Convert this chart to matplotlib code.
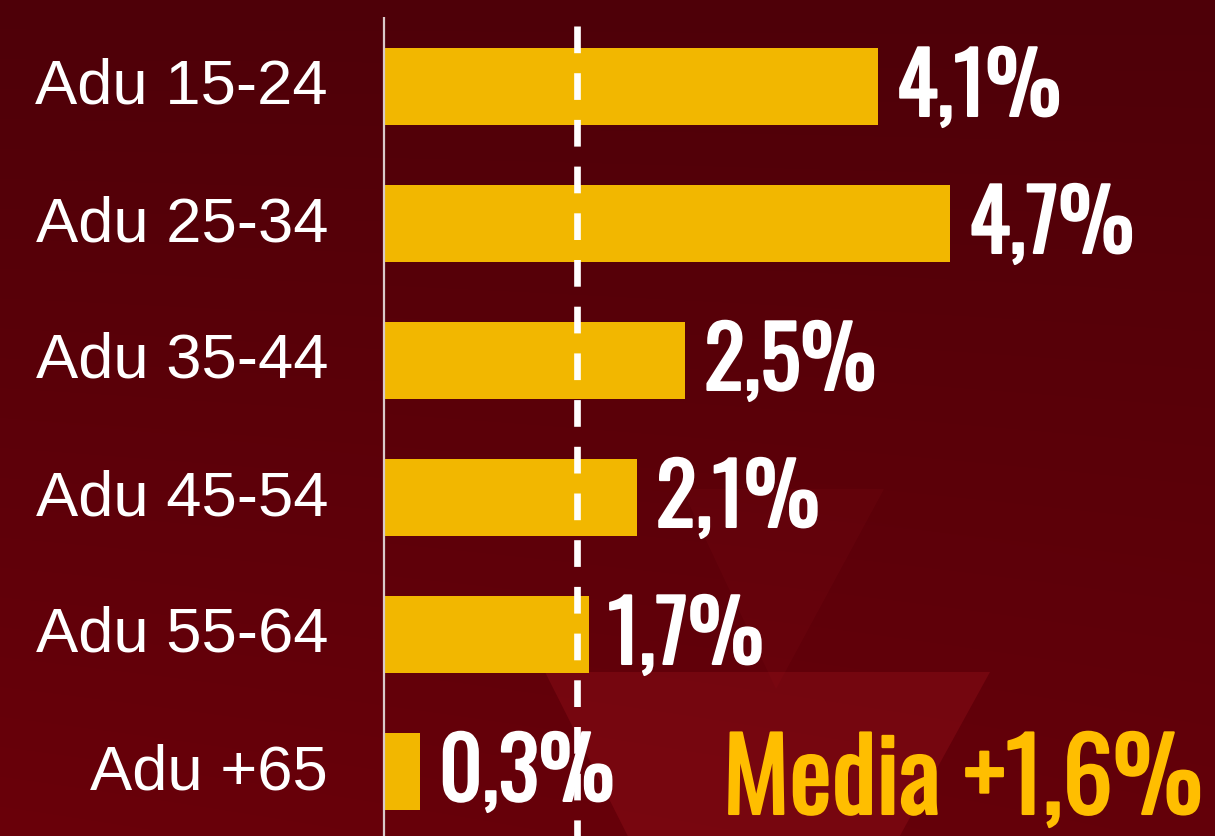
import matplotlib
matplotlib.use("Agg")
import matplotlib.pyplot as plt
from matplotlib import font_manager as fm
from matplotlib.patches import Polygon
import matplotlib.patheffects as pe
import numpy as np

# ---------------- data ----------------
categories = ["Adu 15-24", "Adu 25-34", "Adu 35-44", "Adu 45-54", "Adu 55-64", "Adu +65"]
values = [4.1, 4.7, 2.5, 2.1, 1.7, 0.3]
value_labels = ["4,1%", "4,7%", "2,5%", "2,1%", "1,7%", "0,3%"]
media_value = 1.6
media_label = "Media +1,6%"

# ---------------- fonts ----------------
installed = {f.name for f in fm.fontManager.ttflist}
def pick(cands):
    for c in cands:
        if c in installed:
            return c
    return "DejaVu Sans"
cond_font = pick(["Oswald", "Fjalla One", "League Gothic", "Pathway Gothic One",
                  "Roboto Condensed", "Archivo Narrow", "DejaVu Sans"])
label_font = pick(["Liberation Sans", "Arial", "DejaVu Sans"])

W, H, DPI = 1215, 837, 100
fig = plt.figure(figsize=(W / DPI, H / DPI), dpi=DPI)

# ---------------- background ----------------
bg = fig.add_axes([0, 0, 1, 1], zorder=-10)
yy, xx = np.mgrid[0:H, 0:W]
t = yy / H
top = np.array([78, 0, 8]) / 255
bot = np.array([106, 0, 10]) / 255
img = top[None, None, :] * (1 - t[..., None]) + bot[None, None, :] * t[..., None]
img = img * (1 - 0.06 * (xx / W)[..., None] * t[..., None])
bg.imshow(np.clip(img, 0, 1), extent=[0, W, H, 0], aspect="auto", interpolation="bilinear")
bg.add_patch(Polygon([(682, 490), (884, 490), (776, 690)], closed=True,
                     facecolor="#b02028", alpha=0.08, edgecolor="none"))
bg.add_patch(Polygon([(545, 673), (990, 673), (758, 1095)], closed=True,
                     facecolor="#b01822", alpha=0.25, edgecolor="none"))
bg.set_xlim(0, W)
bg.set_ylim(H, 0)
bg.axis("off")

# ---------------- main axes ----------------
px_per_unit = 120.5
x0 = 384
ax = fig.add_axes([x0 / W, 0, 1 - x0 / W, 1])
ax.set_facecolor("none")
ax.set_xlim(0, (W - x0) / px_per_unit)
row = 137.0
c0 = 87.5
ax.set_ylim((H - c0) / row, -c0 / row)
for s in ax.spines.values():
    s.set_visible(False)
ax.set_xticks([])
ax.set_yticks([])

ypos = np.arange(len(categories))
ax.barh(ypos, values, height=0.56, color="#F2B700", zorder=2)

# zero axis line
ax.plot([0, 0], [(18 - c0) / row, (H - c0) / row], color="#d9c9c9", lw=1.6,
        solid_capstyle="butt", zorder=3, clip_on=False)

# mean dashed line
ln, = ax.plot([media_value, media_value], [(26.7 - c0) / row, (H - c0) / row],
              color="white", lw=4.8, zorder=4, clip_on=False, solid_capstyle="butt")
ln.set_linestyle((0, (26.7 * 72 / DPI / 4.8, 20 * 72 / DPI / 4.8)))
ln.set_dash_capstyle("butt")

# category labels
for y, c in zip(ypos, categories):
    ax.annotate(c, xy=(0, y), xytext=(-(384 - 328) * 72 / DPI, 0), textcoords="offset points",
                ha="right", va="center", color="white", fontsize=45.6,
                family=label_font, zorder=5)

# value labels
for y, v, lab in zip(ypos, values, value_labels):
    ax.annotate(lab, xy=(v, y), xytext=(13.5, -2.5), textcoords="offset points",
                ha="left", va="center", color="white", fontsize=61,
                family=cond_font, zorder=6,
                path_effects=[pe.withStroke(linewidth=1.5, foreground="white")])

# media label
ax.text((723 - x0) / px_per_unit, (815 - c0) / row, media_label, ha="left", va="baseline",
        color="#FFBE00", fontsize=72.5, family=cond_font, zorder=6,
        path_effects=[pe.withStroke(linewidth=1.5, foreground="#FFBE00")])

fig.savefig("out.png", dpi=DPI)
